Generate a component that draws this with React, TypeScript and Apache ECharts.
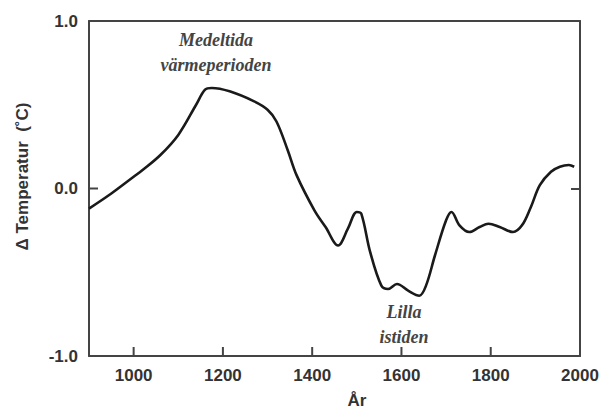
import React, { useEffect, useRef } from "react";
import * as echarts from "echarts";

const years = [900, 950, 1000, 1020, 1060, 1100, 1140, 1160, 1175, 1215, 1270, 1300, 1320, 1345, 1365, 1405, 1430, 1458, 1480, 1500, 1510, 1530, 1555, 1570, 1590, 1615, 1640, 1655, 1675, 1700, 1712, 1730, 1752, 1775, 1795, 1820, 1850, 1870, 1890, 1910, 1935, 1955, 1975, 1987];
const temps = [-0.12, -0.03, 0.07, 0.11, 0.2, 0.32, 0.5, 0.59, 0.6, 0.58, 0.52, 0.47, 0.4, 0.23, 0.08, -0.13, -0.23, -0.34, -0.24, -0.14, -0.15, -0.38, -0.58, -0.6, -0.57, -0.61, -0.64, -0.58, -0.4, -0.19, -0.14, -0.22, -0.26, -0.23, -0.21, -0.23, -0.26, -0.22, -0.11, 0.02, 0.1, 0.13, 0.14, 0.13];
const xTicks = [1000, 1200, 1400, 1600, 1800, 2000];
const yTicks = [-1, 0, 1];
const xTitle = "År";
const yTitle = "Δ Temperatur  (˚C)";
const annotMedieval = "Medeltida\nvärmeperioden";
const annotLIA = "Lilla\nistiden";

const sans = "'Liberation Sans', Arial, sans-serif";
const serif = "'Liberation Serif', 'Times New Roman', serif";
const axisColor = "#444";
const tickLen = 9;

export default function App() {
  const ref = useRef<HTMLDivElement>(null);
  useEffect(() => {
    if (!ref.current) return;
    const chart = echarts.init(ref.current, null, { renderer: "svg" });
    const data = years.map((y, i) => [y, temps[i]]);
    const line = { show: true, onZero: false, lineStyle: { color: axisColor, width: 2 } };
    const labelStyle = { fontFamily: sans, fontWeight: "bold", fontSize: 17, color: "#333" };
    const xRange = { type: "value", min: 900, max: 2000, splitLine: { show: false } };
    const yRange = { type: "value", min: -1, max: 1, splitLine: { show: false } };
    const annotations = [
      {
        type: "text",
        x: 216,
        y: 52,
        style: {
          text: annotMedieval,
          fontFamily: serif,
          fontStyle: "italic",
          fontWeight: "bold",
          fontSize: 18,
          lineHeight: 25,
          fill: "#444",
          align: "center",
          verticalAlign: "middle",
        },
      },
      {
        type: "text",
        x: 404,
        y: 324,
        style: {
          text: annotLIA,
          fontFamily: serif,
          fontStyle: "italic",
          fontWeight: "bold",
          fontSize: 18,
          lineHeight: 25,
          fill: "#444",
          align: "center",
          verticalAlign: "middle",
        },
      },
    ];
    chart.setOption({
      animation: false,
      backgroundColor: "#ffffff",
      grid: { left: 89, right: 23, top: 21, bottom: 55, show: false },
      xAxis: [
        {
          ...xRange,
          position: "bottom",
          name: xTitle,
          nameLocation: "middle",
          nameGap: 36,
          nameTextStyle: { ...labelStyle, padding: [0, 0, 0, 45] },
          axisLine: line,
          axisTick: { show: false },
          axisLabel: { ...labelStyle, customValues: xTicks, margin: 11, formatter: (v: number) => String(v) },
        },
        {
          ...xRange,
          position: "top",
          axisLine: line,
          axisTick: { show: false },
          axisLabel: { show: false },
        },
      ],
      yAxis: [
        {
          ...yRange,
          position: "left",
          name: yTitle,
          nameLocation: "middle",
          nameRotate: 90,
          nameGap: 58,
          nameTextStyle: { ...labelStyle, padding: [0, 0, 0, 24] },
          axisLine: line,
          axisTick: { show: false },
          axisLabel: { ...labelStyle, customValues: yTicks, margin: 11, formatter: (v: number) => v.toFixed(1) },
        },
        {
          ...yRange,
          position: "right",
          axisLine: line,
          axisTick: { show: true, inside: true, length: tickLen, customValues: yTicks, lineStyle: { color: axisColor, width: 2 } },
          axisLabel: { show: false },
        },
      ],
      series: [
        {
          type: "line",
          xAxisIndex: 0,
          yAxisIndex: 0,
          data,
          smooth: 0.35,
          showSymbol: false,
          lineStyle: { color: "#1a1a1a", width: 2.6 },
        },
      ],
      graphic: annotations,
    });

    // Tick marks on the bottom and left axes, placed through the chart's own scales.
    const yBottom = chart.convertToPixel({ yAxisIndex: 0 }, -1) as number;
    const xLeft = chart.convertToPixel({ xAxisIndex: 0 }, 900) as number;
    const tickStyle = { stroke: axisColor, lineWidth: 2 };
    const xTickMarks = xTicks.map((v) => {
      const px = chart.convertToPixel({ xAxisIndex: 0 }, v) as number;
      return { type: "line", shape: { x1: px, y1: yBottom, x2: px, y2: yBottom - tickLen }, style: tickStyle, z: 10 };
    });
    const yTickMarks = yTicks.map((v) => {
      const py = chart.convertToPixel({ yAxisIndex: 0 }, v) as number;
      return { type: "line", shape: { x1: xLeft, y1: py, x2: xLeft + tickLen, y2: py }, style: tickStyle, z: 10 };
    });
    chart.setOption({ graphic: [...annotations, ...xTickMarks, ...yTickMarks] });

    return () => chart.dispose();
  }, []);
  return <div ref={ref} style={{ position: "fixed", left: 0, top: 0, width: 603, height: 414 }} />;
}
